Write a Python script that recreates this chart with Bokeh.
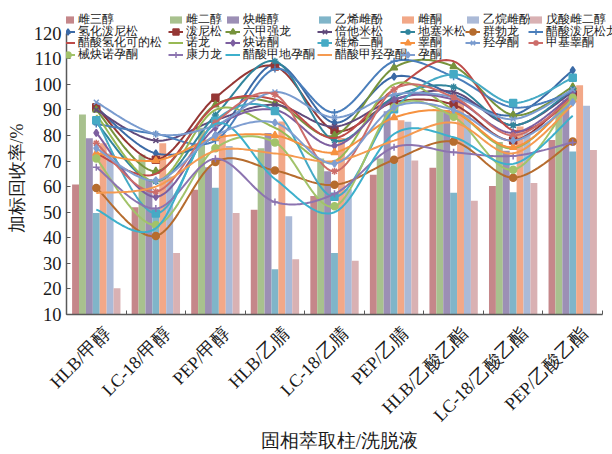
import numpy as np
from bokeh.plotting import figure
from bokeh.models import Range1d, FixedTicker, Legend, LegendItem
from bokeh.embed import file_html
from bokeh.resources import INLINE

categories = ["HLB/甲醇", "LC-18/甲醇", "PEP/甲醇", "HLB/乙腈", "LC-18/乙腈",
              "PEP/乙腈", "HLB/乙酸乙酯", "LC-18/乙酸乙酯", "PEP/乙酸乙酯"]

# ---- bar series (estrogens) ----
bar_names = ["雌三醇", "雌二醇", "炔雌醇", "乙烯雌酚", "雌酮", "乙烷雌酚", "戊酸雌二醇"]
estriol = [60.8, 51.9, 58.8, 51.0, 56.3, 64.6, 67.4, 60.2, 78.2]
estradiol = [88.2, 72.5, 83.0, 75.0, 71.0, 71.0, 90.0, 77.5, 90.0]
ethinylestradiol = [78.9, 63.0, 67.6, 81.0, 66.0, 89.5, 90.0, 74.0, 94.0]
diethylstilbestrol = [49.7, 49.5, 59.6, 27.7, 34.0, 71.0, 57.6, 57.8, 73.7]
estrone = [77.0, 77.0, 80.6, 85.5, 79.0, 86.0, 93.0, 83.5, 99.6]
hexestrol = [73.0, 64.0, 75.9, 48.4, 59.0, 85.4, 88.0, 81.2, 91.6]
estradiol_valerate = [20.3, 34.0, 49.7, 31.6, 31.0, 70.2, 54.5, 61.4, 74.3]
bar_values = [estriol, estradiol, ethinylestradiol, diethylstilbestrol,
              estrone, hexestrol, estradiol_valerate]
bar_colors = ["#C5878A", "#A8C18E", "#9C8FB5", "#80B5C9", "#F2A888", "#ABBAD7", "#D9B1B3"]

# ---- line series ----
line_names = ["氢化泼尼松", "泼尼松", "六甲强龙", "倍他米松", "地塞米松", "群勃龙", "醋酸泼尼松龙",
              "醋酸氢化可的松", "诺龙", "炔诺酮", "雄烯二酮", "睾酮", "羟孕酮", "甲基睾酮",
              "械炔诺孕酮", "康力龙", "醋酸甲地孕酮", "醋酸甲羟孕酮", "孕酮"]
prednisolone = [91.0, 73.0, 80.0, 108.0, 85.0, 103.0, 96.0, 88.0, 105.5]
prednisone = [91.0, 70.5, 94.8, 107.0, 82.0, 93.0, 92.0, 78.0, 96.0]
methylprednisolone = [90.0, 66.0, 92.0, 92.6, 80.0, 106.5, 107.0, 88.0, 99.0]
betamethasone = [90.0, 78.0, 86.0, 92.0, 83.5, 94.0, 97.0, 84.0, 97.0]
dexamethasone = [85.0, 62.0, 88.0, 109.0, 78.0, 95.0, 99.0, 84.0, 98.0]
trenbolone = [59.5, 40.7, 69.6, 66.3, 60.7, 70.5, 77.6, 63.5, 77.6]
prednisolone_acetate = [84.5, 80.6, 78.0, 106.0, 89.0, 109.0, 103.0, 91.0, 97.0]
hydrocortisone_acetate = [73.0, 65.0, 91.6, 94.0, 79.0, 98.0, 109.0, 82.0, 94.0]
nandrolone = [88.0, 62.0, 90.0, 83.0, 70.0, 100.0, 90.0, 75.0, 95.0]
norethisterone = [81.0, 56.0, 83.0, 90.0, 76.0, 94.0, 94.0, 81.0, 96.0]
androstenedione = [86.0, 49.5, 85.8, 89.6, 56.0, 90.3, 103.9, 92.7, 102.6]
testosterone = [73.0, 70.2, 79.0, 80.0, 73.4, 87.0, 89.0, 75.4, 94.0]
hydroxyprogesterone = [93.0, 80.6, 84.0, 97.0, 87.0, 96.0, 95.0, 86.4, 98.0]
methyltestosterone = [77.0, 58.0, 85.0, 96.0, 66.0, 98.0, 95.0, 80.0, 95.0]
levonorgestrel = [71.0, 45.0, 75.0, 77.3, 52.3, 91.0, 87.3, 66.6, 94.8]
stanozolol = [67.6, 51.4, 70.9, 54.0, 57.2, 75.4, 73.4, 72.0, 77.3]
megestrol_acetate = [51.0, 43.7, 84.5, 63.0, 50.0, 80.6, 79.3, 68.9, 87.7]
medroxyprogesterone_acetate = [57.5, 60.0, 74.0, 73.0, 70.0, 78.0, 85.0, 73.0, 92.0]
progesterone = [75.0, 62.4, 80.0, 85.0, 69.0, 91.0, 90.0, 78.0, 93.0]
line_values = [prednisolone, prednisone, methylprednisolone, betamethasone, dexamethasone,
               trenbolone, prednisolone_acetate, hydrocortisone_acetate, nandrolone,
               norethisterone, androstenedione, testosterone, hydroxyprogesterone,
               methyltestosterone, levonorgestrel, stanozolol, megestrol_acetate,
               medroxyprogesterone_acetate, progesterone]
line_colors = ["#3B6AA6", "#953735", "#77933C", "#604A7B", "#31859C", "#B66C2E", "#4A7EBB",
               "#BE4B48", "#98B954", "#7D5FA0", "#46AAC5", "#F69240", "#7A9CCF", "#CD6D6A",
               "#A2C36A", "#8C74B0", "#3DB0CC", "#F59A50", "#7F9ED1"]
line_markers = ["diamond", "square", "triangle", "x", "asterisk", "circle", "cross",
                None, None, "diamond", "square", "triangle", "x", "asterisk",
                "circle", "cross", None, None, "diamond"]

FONT = "Liberation Serif"

# frame geometry (screen px) and legend grid layout
FRAME_L, FRAME_T, FRAME_B, FRAME_R = 66, 6, 316, 612
AXIS_R = 602
PX_PER_UNIT = 2.574
legend_cols_px = [60, 168, 225, 317, 400, 465, 528]
legend_rows_px = [17.5, 29.0, 40.7, 52.3]
ITEM_H = 17
LEGEND_DROP = 4


def smooth(xs, ys, n=24):
    xs = np.asarray(xs, float)
    ys = np.asarray(ys, float)
    px = np.concatenate([[xs[0]], xs, [xs[-1]]])
    py = np.concatenate([[ys[0]], ys, [ys[-1]]])
    t = np.linspace(0, 1, n, endpoint=False)
    ox, oy = [], []
    for i in range(1, len(px) - 2):
        for arr, out in ((px, ox), (py, oy)):
            p0, p1, p2, p3 = arr[i - 1], arr[i], arr[i + 1], arr[i + 2]
            c1 = p1 + (p2 - p0) / 6.0
            c2 = p2 - (p3 - p1) / 6.0
            out.extend((1 - t) ** 3 * p1 + 3 * (1 - t) ** 2 * t * c1
                       + 3 * (1 - t) * t ** 2 * c2 + t ** 3 * p2)
    ox.append(px[-2])
    oy.append(py[-2])
    return ox, oy


ncat = len(categories)
xc = [i + 0.5 for i in range(ncat)]
y_top = 10 + (FRAME_B - FRAME_T) / PX_PER_UNIT
x_end = ncat * (FRAME_R - FRAME_L) / (AXIS_R - FRAME_L)

p = figure(width=612, height=454, output_backend="svg", toolbar_location=None,
           x_range=Range1d(0, x_end), y_range=Range1d(10, y_top),
           min_border_left=FRAME_L, min_border_right=0, min_border_top=FRAME_T,
           min_border_bottom=454 - FRAME_B)
p.outline_line_color = None
p.xgrid.visible = False
p.ygrid.visible = False

items = []
bw = 0.116
for k, (name, vals, col) in enumerate(zip(bar_names, bar_values, bar_colors)):
    xs = [x + (k - 3) * bw for x in xc]
    r = p.vbar(x=xs, top=vals, bottom=10, width=bw, fill_color=col, line_color=None)
    items.append(LegendItem(label=name, renderers=[r]))

for name, vals, col, mk in zip(line_names, line_values, line_colors, line_markers):
    sx, sy = smooth(xc, vals)
    rs = [p.line(sx, sy, line_color=col, line_width=2)]
    if mk is not None:
        rs.append(p.scatter(xc, vals, marker=mk, size=7, fill_color=col, line_color=col,
                            line_width=1.5))
    items.append(LegendItem(label=name, renderers=rs))

# one small legend per entry, laid out on the reference's grid
for idx, item in enumerate(items):
    row, col = divmod(idx, 7)
    vx = legend_cols_px[col] - FRAME_L
    vy = FRAME_B - (legend_rows_px[row] + ITEM_H / 2 + LEGEND_DROP)
    gh = 9 if idx < len(bar_names) else ITEM_H
    lg = Legend(items=[item], location=(vx, vy), padding=0, margin=0, spacing=0,
                border_line_color=None, background_fill_alpha=0,
                label_text_font=FONT, label_text_font_size="12px",
                label_height=ITEM_H, glyph_height=gh, glyph_width=15,
                label_standoff=3, label_text_color="#1a1a1a")
    p.add_layout(lg)

label_shift = 0.19
ax = p.xaxis[0]
ax.bounds = (0, ncat)
ax.ticker = FixedTicker(ticks=[x + label_shift for x in xc], minor_ticks=list(range(ncat + 1)))
ax.major_label_overrides = {x + label_shift: c for x, c in zip(xc, categories)}
ax.major_label_orientation = np.pi / 4
ax.major_tick_line_color = None
ax.minor_tick_in = 4
ax.minor_tick_out = 0
ax.minor_tick_line_color = "#595959"
ax.axis_line_color = "#595959"
ax.axis_line_width = 1.5
ax.major_label_text_font = FONT
ax.major_label_text_font_size = "18px"
ax.major_label_text_color = "#1a1a1a"
ax.major_label_standoff = 10
ax.axis_label = "固相萃取柱/洗脱液"
ax.axis_label_text_font = FONT
ax.axis_label_text_font_size = "19px"
ax.axis_label_text_font_style = "normal"
ax.axis_label_text_color = "#1a1a1a"
ax.axis_label_standoff = -5

ay = p.yaxis[0]
ay.ticker = FixedTicker(ticks=list(range(10, 121, 10)))
ay.bounds = (10, 120)
ay.major_tick_in = 4
ay.major_tick_out = 0
ay.minor_tick_line_color = None
ay.major_tick_line_color = "#595959"
ay.axis_line_color = "#595959"
ay.axis_line_width = 1.5
ay.major_label_text_font = FONT
ay.major_label_text_font_size = "18.5px"
ay.major_label_text_color = "#1a1a1a"
ay.major_label_standoff = 5
# trailing en-spaces push the visible title a little lower along the axis, as in the reference
ay.axis_label = "加标回收率/%" + "\u2002" * 4
ay.axis_label_text_font = FONT
ay.axis_label_text_font_size = "18px"
ay.axis_label_text_font_style = "normal"
ay.axis_label_text_color = "#1a1a1a"
ay.axis_label_standoff = 4

open("out.html", "w").write(file_html(p, INLINE))
